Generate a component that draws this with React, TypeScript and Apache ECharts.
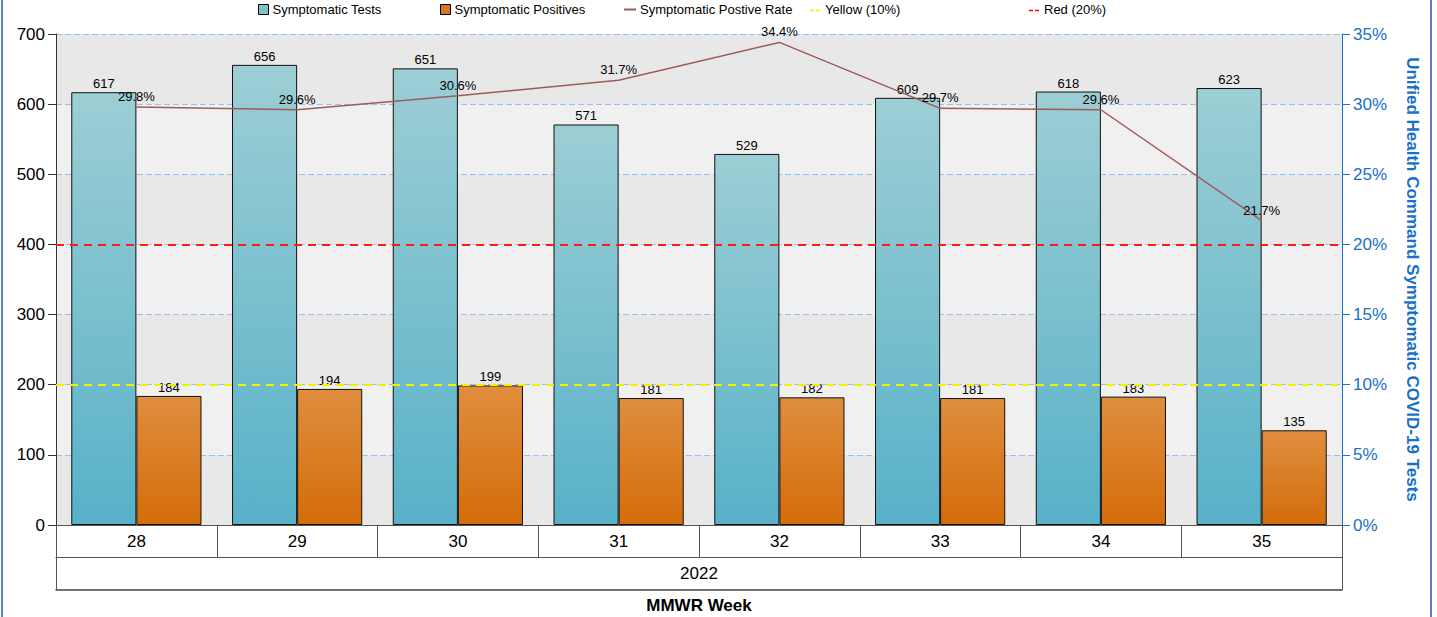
import React, { useEffect, useRef } from "react";
import * as echarts from "echarts";

const weeks = ["28", "29", "30", "31", "32", "33", "34", "35"];
const years = ["2022"];
const symptomaticTests = [617, 656, 651, 571, 529, 609, 618, 623];
const symptomaticPositives = [184, 194, 199, 181, 182, 181, 183, 135];
const positiveRate = [29.8, 29.6, 30.6, 31.7, 34.4, 29.7, 29.6, 21.7];
const yellowLevel = 200;
const redLevel = 400;
const emptySeries = weeks.map(() => "-");

export default function App() {
  const ref = useRef<HTMLDivElement>(null);
  useEffect(() => {
    if (!ref.current) return;
    const chart = echarts.init(ref.current, null, { renderer: "svg" });
    const font = "Arial, 'Liberation Sans', sans-serif";
    const legendBase = {
      top: 3,
      padding: 0,
      itemWidth: 10,
      itemHeight: 10,
      itemGap: 4,
      textStyle: { fontSize: 13, color: "#000", fontFamily: font, padding: [0, 0, 0, -1] },
      selectedMode: false,
    };
    chart.setOption({
      animation: false,
      textStyle: { fontFamily: font },
      grid: { left: 56, right: 95, top: 34, bottom: 92, containLabel: false, outerBoundsMode: "none" },
      legend: [
        {
          ...legendBase,
          left: 258,
          data: [{ name: "Symptomatic Tests", icon: "rect", itemStyle: { color: "#7fc2cd", borderColor: "#000", borderWidth: 1 } }],
        },
        {
          ...legendBase,
          left: 440,
          data: [{ name: "Symptomatic Positives", icon: "rect", itemStyle: { color: "#d8771c", borderColor: "#000", borderWidth: 1 } }],
        },
        {
          ...legendBase,
          left: 624,
          itemWidth: 12,
          itemHeight: 2,
          data: [{ name: "Symptomatic Postive Rate", icon: "rect", itemStyle: { color: "#a05a5a" } }],
        },
        {
          ...legendBase,
          left: 810,
          itemWidth: 11,
          itemHeight: 4,
          data: [{ name: "Yellow (10%)", icon: "rect", itemStyle: { opacity: 0 } }],
        },
        {
          ...legendBase,
          left: 1029,
          itemWidth: 11,
          itemHeight: 4,
          data: [{ name: "Red (20%)", icon: "rect", itemStyle: { opacity: 0 } }],
        },
      ],
      xAxis: [
        {
          type: "category",
          data: weeks,
          position: "bottom",
          axisLine: { show: true, onZero: false, lineStyle: { color: "#555", width: 1 } },
          axisTick: { show: true, length: 32, lineStyle: { color: "#555" } },
          axisLabel: { fontSize: 17, color: "#000", margin: 8 },
          splitLine: { show: false },
        },
        {
          type: "category",
          data: years,
          position: "bottom",
          offset: 32,
          axisLine: { show: true, onZero: false, lineStyle: { color: "#555", width: 1 } },
          axisTick: { show: true, length: 33, lineStyle: { color: "#555" } },
          axisLabel: { fontSize: 17, color: "#000", margin: 8 },
        },
        {
          type: "category",
          data: [""],
          position: "bottom",
          offset: 65,
          axisLine: { show: true, onZero: false, lineStyle: { color: "#444", width: 1.5 } },
          axisTick: { show: false },
          axisLabel: { show: false },
          name: "MMWR Week",
          nameLocation: "middle",
          nameGap: 7,
          nameTextStyle: { fontSize: 17, fontWeight: "bold", color: "#000" },
        },
      ],
      yAxis: [
        {
          type: "value",
          min: 0,
          max: 700,
          interval: 100,
          position: "left",
          axisLine: { show: true, lineStyle: { color: "#333" } },
          axisTick: { show: true, length: 8, lineStyle: { color: "#333" } },
          axisLabel: { fontSize: 17, color: "#000", margin: 11 },
          splitLine: { show: true, lineStyle: { color: "#94c0f2", type: [6, 3] } },
          splitArea: { show: true, areaStyle: { color: ["#e8e8e8", "#f0f0f0"] } },
        },
        {
          type: "value",
          min: 0,
          max: 35,
          interval: 5,
          position: "right",
          axisLine: { show: true, lineStyle: { color: "#1a6fc9" } },
          axisTick: { show: true, length: 8, lineStyle: { color: "#1a6fc9" } },
          axisLabel: { fontSize: 17, color: "#1a6fc9", margin: 11, formatter: "{value}%" },
          splitLine: { show: false },
          name: "Unified Health Command Symptomatic COVID-19 Tests",
          nameLocation: "middle",
          nameRotate: -90,
          nameGap: 62,
          nameTextStyle: { fontSize: 17, fontWeight: "bold", color: "#1a6fc9" },
        },
      ],
      series: [
        {
          name: "Symptomatic Tests",
          type: "bar",
          data: symptomaticTests,
          barGap: "0%",
          barCategoryGap: "19%",
          itemStyle: {
            color: new echarts.graphic.LinearGradient(0, 0, 0, 1, [
              { offset: 0, color: "#9dced5" },
              { offset: 1, color: "#57b1c8" },
            ]),
            borderColor: "#111",
            borderWidth: 1,
          },
          label: { show: true, position: "top", distance: 2, fontSize: 13, color: "#000" },
        },
        {
          name: "Symptomatic Positives",
          type: "bar",
          data: symptomaticPositives,
          itemStyle: {
            color: new echarts.graphic.LinearGradient(0, 0, 0, 1, [
              { offset: 0, color: "#df8e3e" },
              { offset: 1, color: "#d46c0a" },
            ]),
            borderColor: "#111",
            borderWidth: 1,
          },
          label: { show: true, position: "top", distance: 2, fontSize: 13, color: "#000" },
        },
        {
          name: "Symptomatic Postive Rate",
          type: "line",
          yAxisIndex: 1,
          data: positiveRate,
          symbol: "circle",
          symbolSize: 0,
          showSymbol: true,
          lineStyle: { color: "#a05a5a", width: 1.5 },
          itemStyle: { color: "#a05a5a" },
          label: { show: true, position: "top", distance: 4, fontSize: 13, color: "#000", formatter: "{c}%" },
          z: 5,
        },
        {
          name: "Yellow (10%)",
          type: "line",
          data: emptySeries,
          symbol: "none",
          lineStyle: { color: "#eeee00", width: 1.5, type: [4, 2] },
          itemStyle: { color: "#eeee00" },
          markLine: {
            silent: true,
            symbol: "none",
            label: { show: false },
            lineStyle: { color: "#f2f200", width: 2, type: [8, 6] },
            data: [{ yAxis: yellowLevel }],
          },
          z: 6,
        },
        {
          name: "Red (20%)",
          type: "line",
          data: emptySeries,
          symbol: "none",
          lineStyle: { color: "#ff0000", width: 1.5, type: [4, 2] },
          itemStyle: { color: "#ff0000" },
          markLine: {
            silent: true,
            symbol: "none",
            label: { show: false },
            lineStyle: { color: "#ff1a1a", width: 2, type: [8, 6] },
            data: [{ yAxis: redLevel }],
          },
          z: 6,
        },
      ],
      graphic: [
        { type: "line", shape: { x1: 2, y1: 0, x2: 2, y2: 617 }, style: { stroke: "#5b82c0", lineWidth: 2 } },
        { type: "line", shape: { x1: 1431, y1: 0, x2: 1431, y2: 617 }, style: { stroke: "#5b82c0", lineWidth: 2 } },
        { type: "line", shape: { x1: 810, y1: 10.5, x2: 821, y2: 10.5 }, style: { stroke: "#eeee00", lineWidth: 1.5, lineDash: [4, 2] } },
        { type: "line", shape: { x1: 1029, y1: 10.5, x2: 1040, y2: 10.5 }, style: { stroke: "#ff0000", lineWidth: 1.5, lineDash: [4, 2] } },
      ],
    });
    return () => chart.dispose();
  }, []);
  return (
    <div
      ref={ref}
      style={{ position: "absolute", left: 0, top: 0, width: 1437, height: 617, background: "#fff" }}
    />
  );
}
